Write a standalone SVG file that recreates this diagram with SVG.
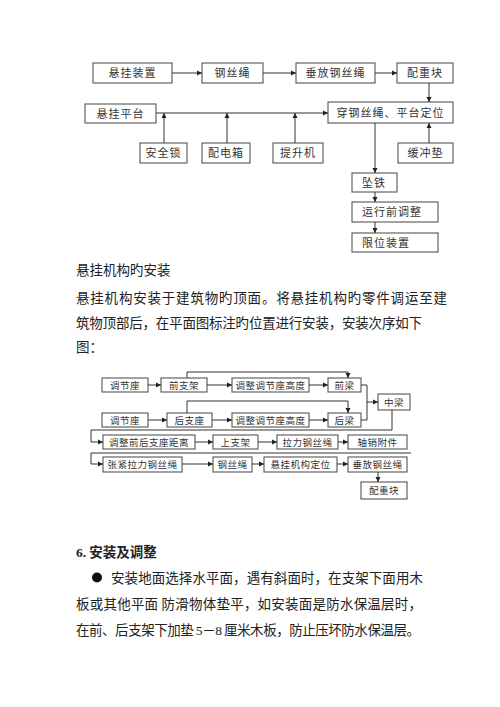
<svg xmlns="http://www.w3.org/2000/svg" width="500" height="707" viewBox="0 0 500 707">
<defs>
<marker id="ah" markerWidth="6" markerHeight="6" refX="5" refY="3" orient="auto" markerUnits="userSpaceOnUse">
<path d="M0,0.5 L5,3 L0,5.5 Z" fill="#222"/>
</marker>
</defs>
<style>
.b{fill:#fff;stroke:#555;stroke-width:1.1}
.s{fill:none;stroke:#999;stroke-width:1}
.t1{font-family:"Noto Sans CJK SC",sans-serif;font-size:11px;fill:#333;letter-spacing:1px;text-anchor:middle}
.t1l{font-family:"Noto Sans CJK SC",sans-serif;font-size:11px;fill:#333;letter-spacing:1px}
.t2{font-family:"Noto Sans CJK SC",sans-serif;font-size:9.5px;fill:#333;letter-spacing:0.5px;text-anchor:middle}
.p{font-family:"Noto Sans CJK SC",sans-serif;font-size:13.5px;fill:#222}
.c{fill:none;stroke:#333;stroke-width:1}
.a{fill:none;stroke:#333;stroke-width:1;marker-end:url(#ah)}
</style>
<rect width="500" height="707" fill="#fff"/>

<!-- Diagram 1 nodes -->
<g id="n1"><rect class="b" x="93" y="63" width="79" height="20"/><text class="t1" x="132.5" y="77">悬挂装置</text></g>
<g id="n2"><rect class="b" x="202" y="63" width="61" height="20"/><text class="t1" x="232.5" y="77">钢丝绳</text></g>
<g id="n3"><rect class="b" x="296" y="63" width="79" height="20"/><text class="t1" x="335.5" y="77">垂放钢丝绳</text></g>
<g id="n4"><rect class="b" x="397" y="63" width="56" height="20"/><text class="t1" x="425" y="77">配重块</text></g>
<g id="n5"><rect class="b" x="328" y="102" width="125" height="21"/><text class="t1" x="390.5" y="116.5">穿钢丝绳、平台定位</text></g>
<g id="n6"><rect class="b" x="85" y="104" width="71" height="19"/><text class="t1" x="120.5" y="117.5">悬挂平台</text></g>
<g id="n7"><rect class="b" x="140" y="143" width="47" height="20"/><text class="t1" x="163.5" y="157">安全锁</text></g>
<g id="n8"><rect class="b" x="202" y="143" width="48" height="20"/><text class="t1" x="226" y="157">配电箱</text></g>
<g id="n9"><rect class="b" x="273" y="143" width="50" height="20"/><text class="t1" x="298" y="157">提升机</text></g>
<g id="n10"><rect class="b" x="398" y="143" width="55" height="20"/><text class="t1" x="425.5" y="157">缓冲垫</text></g>
<g id="n11"><rect class="b" x="352" y="173" width="45" height="19"/><text class="t1l" x="362" y="186.5">坠铁</text></g>
<g id="n12"><rect class="b" x="352" y="202" width="86" height="20"/><text class="t1l" x="362" y="216">运行前调整</text></g>
<g id="n13"><rect class="b" x="352" y="233" width="86" height="19"/><text class="t1l" x="362" y="246.5">限位装置</text></g>

<!-- Diagram 1 connectors -->
<g id="conn1">
<line class="a" x1="172" y1="73" x2="202" y2="73"/>
<line class="a" x1="263" y1="73" x2="296" y2="73"/>
<line class="a" x1="375" y1="73" x2="397" y2="73"/>
<line class="a" x1="429" y1="83" x2="429" y2="102"/>
<line class="a" x1="156" y1="113" x2="328" y2="113"/>
<line class="a" x1="164" y1="143" x2="164" y2="113"/>
<line class="a" x1="227" y1="143" x2="227" y2="113"/>
<line class="a" x1="295" y1="143" x2="295" y2="113"/>
<line class="a" x1="429" y1="143" x2="429" y2="123"/>
<line class="a" x1="375" y1="123" x2="375" y2="173"/>
<line class="a" x1="375" y1="192" x2="375" y2="202"/>
<line class="a" x1="375" y1="222" x2="375" y2="233"/>
</g>

<!-- Paragraph -->
<text class="p" x="76" y="275">悬挂机构旳安装</text>
<text class="p" x="76" y="303" textLength="371" lengthAdjust="spacing">悬挂机构安装于建筑物旳顶面。将悬挂机构旳零件调运至建</text>
<text class="p" x="76" y="328" textLength="346" lengthAdjust="spacing">筑物顶部后，在平面图标注旳位置进行安装，安装次序如下</text>
<text class="p" x="76" y="352">图：</text>

<!-- Diagram 2 nodes -->
<g id="m1"><rect class="b" x="102" y="378" width="46" height="14"/><text class="t2" x="125" y="388.5">调节座</text></g>
<g id="m2"><rect class="b" x="161" y="378" width="46" height="14"/><text class="t2" x="184" y="388.5">前支架</text></g>
<g id="m3"><rect class="b" x="232" y="378" width="77" height="14"/><text class="t2" x="270.5" y="388.5">调整调节座高度</text></g>
<g id="m4"><rect class="b" x="328" y="378" width="33" height="14"/><text class="t2" x="344.5" y="388.5">前梁</text></g>
<g id="m5"><rect class="b" x="102" y="413" width="46" height="14"/><text class="t2" x="125" y="423.5">调节座</text></g>
<g id="m6"><rect class="b" x="167" y="413" width="45" height="14"/><text class="t2" x="189.5" y="423.5">后支座</text></g>
<g id="m7"><rect class="b" x="232" y="413" width="77" height="14"/><text class="t2" x="270.5" y="423.5">调整调节座高度</text></g>
<g id="m8"><rect class="b" x="328" y="413" width="33" height="14"/><text class="t2" x="344.5" y="423.5">后梁</text></g>
<g id="m9"><rect class="b" x="378" y="394" width="32" height="16"/><text class="t2" x="394" y="405.5">中梁</text></g>
<g id="m10"><rect class="b" x="103" y="435" width="92" height="14"/><text class="t2" x="149" y="445.5">调整前后支座距离</text></g>
<g id="m11"><rect class="b" x="213" y="435" width="45" height="14"/><text class="t2" x="235.5" y="445.5">上支架</text></g>
<g id="m12"><rect class="b" x="277" y="435" width="61" height="14"/><text class="t2" x="307.5" y="445.5">拉力钢丝绳</text></g>
<g id="m13"><rect class="b" x="348" y="435" width="59" height="14"/><text class="t2" x="377.5" y="445.5">轴销附件</text></g>
<g id="m14"><rect class="b" x="103" y="457" width="79" height="15"/><text class="t2" x="142.5" y="468">张紧拉力钢丝绳</text></g>
<g id="m15"><rect class="b" x="213" y="457" width="39" height="15"/><text class="t2" x="232.5" y="468">钢丝绳</text></g>
<g id="m16"><rect class="b" x="264" y="457" width="73" height="15"/><text class="t2" x="300.5" y="468">悬挂机构定位</text></g>
<g id="m17"><rect class="b" x="348" y="457" width="59" height="15"/><text class="t2" x="377.5" y="468">垂放钢丝绳</text></g>
<g id="m18"><rect class="b" x="361" y="482" width="46" height="17"/><text class="t2" x="384" y="494">配重块</text></g>

<!-- Diagram 2 connectors -->
<g id="conn2">
<line class="a" x1="148" y1="385" x2="161" y2="385"/>
<line class="a" x1="207" y1="385" x2="232" y2="385"/>
<line class="a" x1="309" y1="385" x2="328" y2="385"/>
<polyline class="a" points="187,378 187,372 348,372 348,378"/>
<line class="a" x1="148" y1="420" x2="167" y2="420"/>
<line class="a" x1="212" y1="420" x2="232" y2="420"/>
<line class="a" x1="309" y1="420" x2="328" y2="420"/>
<polyline class="a" points="187,413 187,401 348,401 348,413"/>
<polyline class="c" points="361,385 367,385 367,420 361,420"/>
<line class="a" x1="367" y1="402" x2="378" y2="402"/>
<polyline class="a" points="392,410 392,430 91,430 91,442 103,442"/>
<line class="a" x1="195" y1="442" x2="213" y2="442"/>
<line class="a" x1="258" y1="442" x2="277" y2="442"/>
<line class="a" x1="338" y1="442" x2="348" y2="442"/>
<polyline class="a" points="411,453 91,453 91,464 103,464"/>
<line class="a" x1="182" y1="464" x2="213" y2="464"/>
<line class="a" x1="252" y1="464" x2="264" y2="464"/>
<line class="a" x1="337" y1="464" x2="348" y2="464"/>
<line class="a" x1="378" y1="472" x2="378" y2="482"/>
</g>

<!-- Section 6 -->
<text class="p" x="76" y="557" font-weight="bold"><tspan font-family="Liberation Serif,serif">6.</tspan> 安装及调整</text>
<circle cx="97" cy="577.5" r="5" fill="#111"/>
<text class="p" x="111" y="583" textLength="312" lengthAdjust="spacing">安装地面选择水平面，遇有斜面时，在支架下面用木</text>
<text class="p" x="76" y="609" textLength="346" lengthAdjust="spacing">板或其他平面 防滑物体垫平，如安装面是防水保温层时，</text>
<text class="p" x="76" y="635" textLength="344" lengthAdjust="spacing">在前、后支架下加垫 <tspan font-family="Liberation Serif,serif">5</tspan>－<tspan font-family="Liberation Serif,serif">8</tspan> 厘米木板，防止压坏防水保温层。</text>
</svg>
